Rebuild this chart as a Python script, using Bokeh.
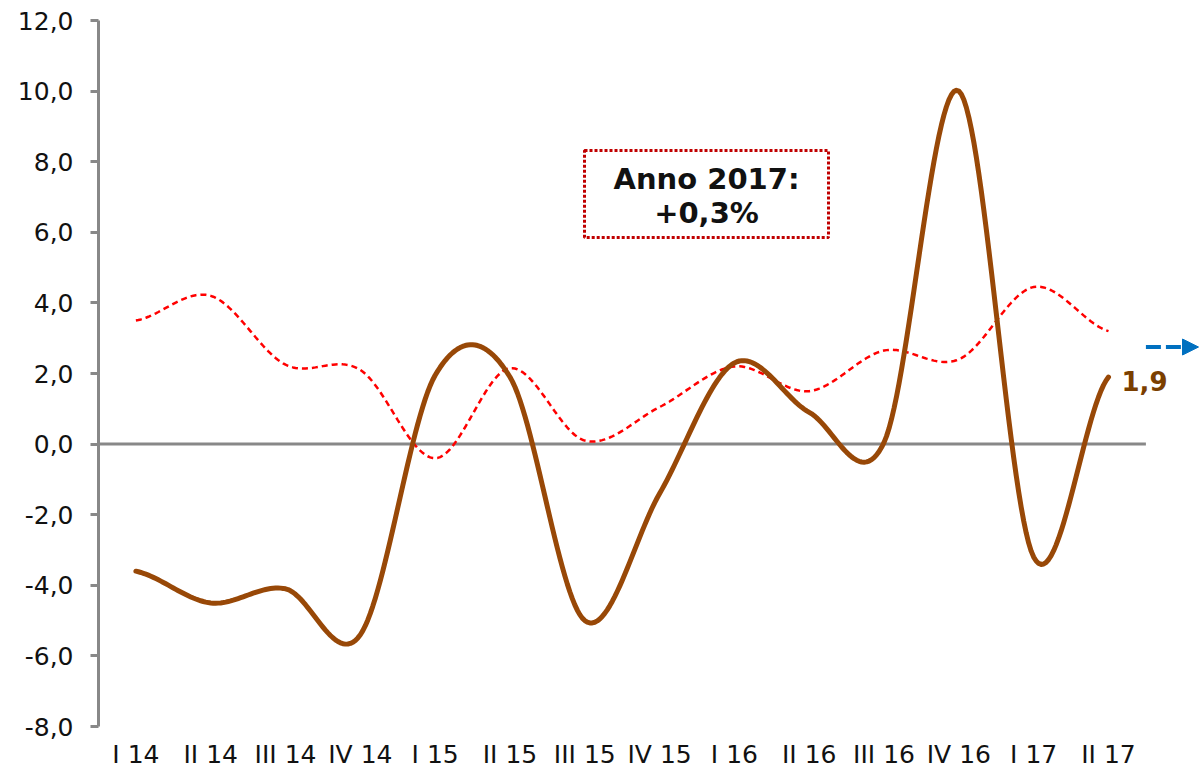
import numpy as np
from bokeh.plotting import figure
from bokeh.models import (Range1d, FixedTicker, Arrow, NormalHead, BoxAnnotation, Label)
from bokeh.embed import file_html
from bokeh.resources import INLINE

# ---------------- data ----------------
quarters = ["I 14", "II 14", "III 14", "IV 14", "I 15", "II 15", "III 15", "IV 15",
            "I 16", "II 16", "III 16", "IV 16", "I 17", "II 17"]
brown_vals = [-3.6, -4.5, -4.1, -5.4, 1.95, 1.9, -5.0, -1.4, 2.3, 0.9, 0.05, 10.0, -3.2, 1.9]
red_vals = [3.5, 4.2, 2.25, 2.1, -0.4, 2.15, 0.1, 1.05, 2.2, 1.5, 2.65, 2.4, 4.45, 3.2]
y_ticks = [-8, -6, -4, -2, 0, 2, 4, 6, 8, 10, 12]
y_tick_labels = ["-8,0", "-6,0", "-4,0", "-2,0", "0,0", "2,0", "4,0", "6,0", "8,0", "10,0", "12,0"]
last_label = "1,9"
box_line1 = "Anno 2017:"
box_line2 = "+0,3%"
arrow_level = 2.75


def smooth(vals, n=30):
    """Catmull-Rom curve through the points (like Excel's smoothed line)."""
    p = np.asarray(vals, dtype=float)
    xs, ys = [], []
    t = np.linspace(0, 1, n, endpoint=False)
    h00 = 2 * t**3 - 3 * t**2 + 1
    h10 = t**3 - 2 * t**2 + t
    h01 = -2 * t**3 + 3 * t**2
    h11 = t**3 - t**2
    for i in range(len(p) - 1):
        p0 = p[i - 1] if i > 0 else p[i]
        p3 = p[i + 2] if i + 2 < len(p) else p[i + 1]
        m1 = (p[i + 1] - p0) / 2.0
        m2 = (p3 - p[i]) / 2.0
        ys.extend(h00 * p[i] + h10 * m1 + h01 * p[i + 1] + h11 * m2)
        xs.extend(i + t)
    xs.append(len(p) - 1)
    ys.append(p[-1])
    return xs, ys


FONT = "DejaVu Sans"
GRAY = "#888888"
BROWN = "#984807"
STEP = 74.815  # px per category

W, H = 1200, 771
LEFT, TOP, BOTTOM = 98, 20, 45

p = figure(width=W, height=H,
           x_range=Range1d(-0.5, -0.5 + (W - LEFT) / STEP), y_range=Range1d(-8, 12),
           output_backend="svg", toolbar_location=None,
           min_border_left=LEFT, min_border_right=0, min_border_top=TOP,
           min_border_bottom=BOTTOM)
p.outline_line_color = None
p.xgrid.grid_line_color = None
p.ygrid.grid_line_color = None
p.background_fill_color = "white"
p.border_fill_color = "white"

# y axis
p.yaxis.ticker = FixedTicker(ticks=y_ticks)
p.yaxis.major_label_overrides = {t: l for t, l in zip(y_ticks, y_tick_labels)}
p.yaxis.axis_line_color = GRAY
p.yaxis.axis_line_width = 3
p.yaxis.major_tick_line_color = GRAY
p.yaxis.major_tick_line_width = 3
p.yaxis.major_tick_out = 8
p.yaxis.major_tick_in = 0
p.yaxis.minor_tick_line_color = None
p.yaxis.major_label_text_font = FONT
p.yaxis.major_label_text_font_size = "25px"
p.yaxis.major_label_text_color = "#111111"
p.yaxis.major_label_standoff = 17

# x axis (category labels at bottom)
p.xaxis.ticker = FixedTicker(ticks=list(range(len(quarters))))
p.xaxis.major_label_overrides = {i: q for i, q in enumerate(quarters)}
p.xaxis.axis_line_color = None
p.xaxis.major_tick_line_color = None
p.xaxis.minor_tick_line_color = None
p.xaxis.major_tick_out = 0
p.xaxis.major_tick_in = 0
p.xaxis.major_label_text_font = FONT
p.xaxis.major_label_text_font_size = "25px"
p.xaxis.major_label_text_color = "#111111"
p.xaxis.major_label_standoff = 13

# zero line (category axis crossing)
p.segment(x0=[-0.5], y0=[0], x1=[len(quarters) - 0.5], y1=[0],
          line_color=GRAY, line_width=3)

# series
rx, ry = smooth(red_vals)
p.line(rx, ry, line_color="#FF0000", line_width=2.5, line_dash="6 4")
bx, by = smooth(brown_vals)
p.line(bx, by, line_color=BROWN, line_width=5, line_cap="round", line_join="round")

# last value label
p.add_layout(Label(x=len(quarters) - 1, y=brown_vals[-1], text=last_label,
                   x_offset=13, y_offset=-4, text_align="left", text_baseline="middle",
                   text_font=FONT, text_font_style="bold", text_font_size="26px",
                   text_color="#7B3F00"))

# trend arrow
p.add_layout(Arrow(x_start=len(quarters) - 0.5, y_start=arrow_level,
                   x_end=-0.5 + (W - 2 - LEFT) / STEP, y_end=arrow_level,
                   line_color="#0070C0", line_width=4, line_dash="15 5",
                   end=NormalHead(size=16, fill_color="#0070C0", line_color="#0070C0",
                                  line_width=1)))

# annotation box
p.add_layout(BoxAnnotation(left=(584 - LEFT) / STEP - 0.5, right=(828 - LEFT) / STEP - 0.5,
                           bottom=5.85, top=8.32,
                           fill_color="white", fill_alpha=1.0,
                           line_color="#C00000", line_alpha=1.0, line_width=3,
                           line_dash="3 2", level="overlay"))
cx = (706 - LEFT) / STEP - 0.5
p.add_layout(Label(x=cx, y=7.5, text=box_line1, text_align="center",
                   text_baseline="middle", text_font=FONT, text_font_style="bold",
                   text_font_size="29px", text_color="#111111", level="overlay"))
p.add_layout(Label(x=cx, y=6.55, text=box_line2, text_align="center",
                   text_baseline="middle", text_font=FONT, text_font_style="bold",
                   text_font_size="29px", text_color="#111111", level="overlay"))

open("out.html", "w").write(file_html(p, INLINE))
